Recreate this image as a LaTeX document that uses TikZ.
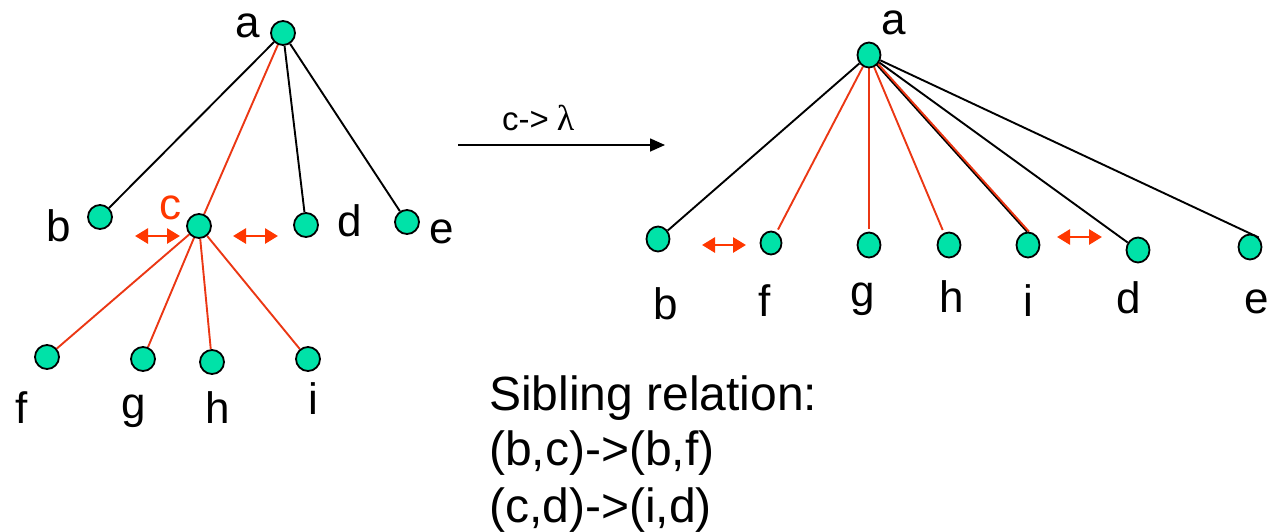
\documentclass[tikz,border=0pt]{standalone}
\usepackage{fontspec}
\setmainfont{Liberation Sans}
\newfontfamily\lamfont{Liberation Serif}
\usetikzlibrary{arrows.meta,shapes.geometric}
\definecolor{nodegreen}{RGB}{0,226,168}
\definecolor{edgered}{RGB}{235,55,20}
\definecolor{arrred}{RGB}{255,55,0}
\pgfdeclarelayer{bg}
\pgfsetlayers{bg,main}
\begin{document}
\begin{tikzpicture}[x=1pt,y=-1pt,
  vtx/.style={circle,draw=black,line width=1.8pt,fill=nodegreen,minimum size=24pt,inner sep=0pt},
  rvtx/.style={ellipse,draw=black,line width=1.8pt,fill=nodegreen,minimum width=23pt,minimum height=25pt,inner sep=0pt},
  lbl/.style={font=\fontsize{44}{50}\selectfont,inner sep=0pt},
  txt/.style={font=\fontsize{48}{56}\selectfont,inner sep=0pt,anchor=base west},
  blk/.style={draw=black,line width=1.9pt},
  redge/.style={draw=edgered,line width=1.9pt},
  sib/.style={draw=arrred,line width=2.8pt,{Triangle[length=13pt,width=15pt]}-{Triangle[length=13pt,width=15pt]}}]
\useasboundingbox (0,0) rectangle (1267,531);

% ---------- left tree ----------
\node[vtx] (La) at (283,33) {};
\node[vtx] (Lb) at (100,217) {};
\node[vtx] (Lc) at (199,226) {};
\node[vtx] (Ld) at (306,225) {};
\node[vtx] (Le) at (407,222) {};
\node[vtx] (Lf) at (47,357) {};
\node[vtx] (Lg) at (143,359) {};
\node[vtx] (Lh) at (212,362) {};
\node[vtx] (Li) at (308,359) {};

\begin{pgfonlayer}{bg}
\draw[blk] (La) -- (Lb);
\draw[redge] (La) -- (Lc);
\draw[blk] (La) -- (Ld);
\draw[blk] (La) -- (Le);
\draw[redge] (Lc) -- (Lf);
\draw[redge] (Lc) -- (Lg);
\draw[redge] (Lc) -- (Lh);
\draw[redge] (Lc) -- (Li);
\end{pgfonlayer}

\node[lbl] (tLa) at (248,26) {a};
\node[lbl] (tLb) at (59,226) {b};
\node[lbl,text=arrred] (tLc) at (170,208) {c};
\node[lbl] (tLd) at (350,221) {d};
\node[lbl] (tLe) at (442,232) {e};
\node[lbl] (tLf) at (22,408) {f};
\node[lbl] (tLg) at (134,411) {g};
\node[lbl] (tLh) at (218,408) {h};
\node[lbl] (tLi) at (313,399) {i};

\coordinate (s1a) at (135,236);
\coordinate (s1b) at (180,236);
\coordinate (s2a) at (233,236);
\coordinate (s2b) at (278,236);
\draw[sib] (s1a) -- (s1b);
\draw[sib] (s2a) -- (s2b);

% ---------- transformation arrow ----------
\coordinate (t1) at (458,145);
\coordinate (t2) at (665,145);
\draw[line width=1.6pt,-{Triangle[length=15pt,width=13pt]}] (t1) -- (t2);
\node[font=\fontsize{33}{40}\selectfont,inner sep=0pt,anchor=base west] (tr) at (502,130) {c->\hspace{8pt}{\lamfont\fontsize{36}{40}\selectfont λ}};

% ---------- right tree ----------
\node[rvtx] (Ra) at (869,55) {};
\node[rvtx] (Rb) at (658,239) {};
\node[rvtx,minimum width=21pt,minimum height=23pt] (Rf) at (771,243) {};
\node[rvtx] (Rg) at (869,245) {};
\node[rvtx] (Rh) at (949,245) {};
\node[rvtx] (Ri) at (1028,245) {};
\node[rvtx] (Rd) at (1138,250) {};
\node[rvtx] (Re) at (1250,247) {};

\begin{pgfonlayer}{bg}
\draw[blk] (Ra) -- (Rb);
\draw[redge,shorten >=3pt] (Ra) -- (Rf);
\draw[redge,shorten >=3pt] (Ra) -- (Rg);
\draw[redge,shorten >=3pt] (Ra) -- (Rh);
\draw[blk] ([xshift=-1pt]Ra.center) -- ([xshift=-1pt]Ri.north);
\draw[redge] ([xshift=1pt]Ra.center) -- ([xshift=1pt]Ri.north);
\draw[blk] (Ra) -- (Rd);
\draw[blk] (Ra) -- (Re.north east);
\end{pgfonlayer}

\node[lbl] (tRa) at (894,23) {a};
\node[lbl] (tRb) at (666,304) {b};
\node[lbl] (tRf) at (765,301) {f};
\node[lbl] (tRg) at (863,299) {g};
\node[lbl] (tRh) at (952,297) {h};
\node[lbl] (tRi) at (1028,301) {i};
\node[lbl] (tRd) at (1129,298) {d};
\node[lbl] (tRe) at (1257,302) {e};

\coordinate (s3a) at (702,245);
\coordinate (s3b) at (746,245);
\coordinate (s4a) at (1057,237);
\coordinate (s4b) at (1102,237);
\draw[sib] (s3a) -- (s3b);
\draw[sib] (s4a) -- (s4b);

% ---------- sibling relation text ----------
\node[txt] (x1) at (489,410) {Sibling relation:};
\node[txt] (x2) at (489,465) {(b,c)->(b,f)};
\node[txt] (x3) at (489,522) {(c,d)->(i,d)};
\end{tikzpicture}
\end{document}
